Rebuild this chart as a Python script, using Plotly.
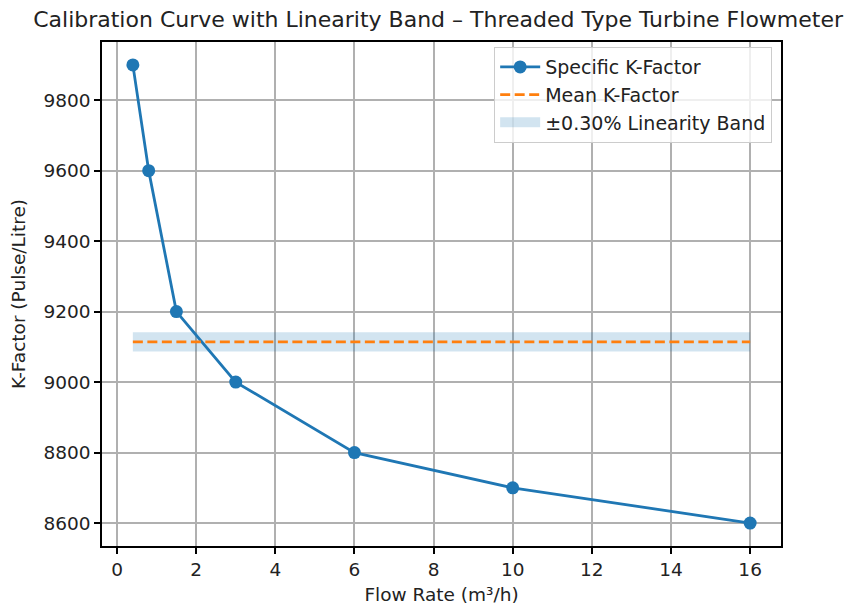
import plotly.graph_objects as go

flow_rate = [0.4, 0.8, 1.5, 3, 6, 10, 16]
k_factor = [9900, 9600, 9200, 9000, 8800, 8700, 8600]
linearity_pct = 0.30
x_ticks = [0, 2, 4, 6, 8, 10, 12, 14, 16]
y_ticks = [8600, 8800, 9000, 9200, 9400, 9600, 9800]

mean_k = sum(k_factor) / len(k_factor)
band = mean_k * linearity_pct / 100
x_min, x_max = min(flow_rate), max(flow_rate)

BLUE = "#1f77b4"
ORANGE = "#ff7f0e"
FONT = "DejaVu Sans"
FS = 18.5

fig = go.Figure()

# Linearity band
fig.add_trace(go.Scatter(
    x=[x_min, x_max, x_max, x_min, x_min],
    y=[mean_k - band, mean_k - band, mean_k + band, mean_k + band, mean_k - band],
    fill="toself", fillcolor="rgba(31,119,180,0.2)", line=dict(width=0),
    mode="lines", name="±0.30% Linearity Band", hoverinfo="skip", showlegend=False,
))
fig.add_trace(go.Scatter(
    x=flow_rate, y=k_factor, mode="lines+markers", name="Specific K-Factor",
    line=dict(color=BLUE, width=2.8), marker=dict(size=13, color=BLUE),
))
fig.add_trace(go.Scatter(
    x=[x_min, x_max], y=[mean_k, mean_k], mode="lines", name="Mean K-Factor",
    line=dict(color=ORANGE, width=2.8, dash="10px,4.5px"),
))
# legend proxy for band
fig.add_trace(go.Scatter(
    x=[None], y=[None], mode="lines", name="±0.30% Linearity Band",
    line=dict(color="rgba(31,119,180,0.2)", width=14),
))

axis_common = dict(
    showgrid=True, gridcolor="#b0b0b0", gridwidth=1.5,
    showline=True, linecolor="black", linewidth=1.5, mirror=True,
    ticks="outside", ticklen=6, tickwidth=1.5, tickcolor="black",
    tickfont=dict(family=FONT, size=FS, color="#222"),
    zeroline=False, automargin=False,
)

fig.update_layout(
    width=855, height=600,
    paper_bgcolor="white", plot_bgcolor="white",
    margin=dict(l=94, r=82, t=34, b=62),
    font=dict(family=FONT, color="#222"),
    title=dict(text="Calibration Curve with Linearity Band – Threaded Type Turbine Flowmeter",
               x=0.495, xref="paper", xanchor="center", y=1 - 11 / 600, yanchor="middle",
               font=dict(family=FONT, size=22, color="#222")),
    xaxis=dict(axis_common, range=[-0.38, 16.78], tickmode="array",
               tickvals=x_ticks, ticktext=[str(v) for v in x_ticks],
               title=dict(text="Flow Rate (m³/h)", font=dict(family=FONT, size=FS), standoff=9)),
    yaxis=dict(axis_common, range=[8535, 9965], tickmode="array",
               tickvals=y_ticks, ticktext=[str(v) for v in y_ticks],
               title=dict(text="K-Factor (Pulse/Litre)", font=dict(family=FONT, size=FS), standoff=13)),
    legend=dict(x=0.987, y=0.99, xanchor="right", yanchor="top",
                bgcolor="rgba(255,255,255,0.8)", bordercolor="#ccc", borderwidth=1,
                font=dict(family=FONT, size=19, color="#222"), itemwidth=40,
                tracegroupgap=0),
    showlegend=True,
)

fig.write_html("out.html")
